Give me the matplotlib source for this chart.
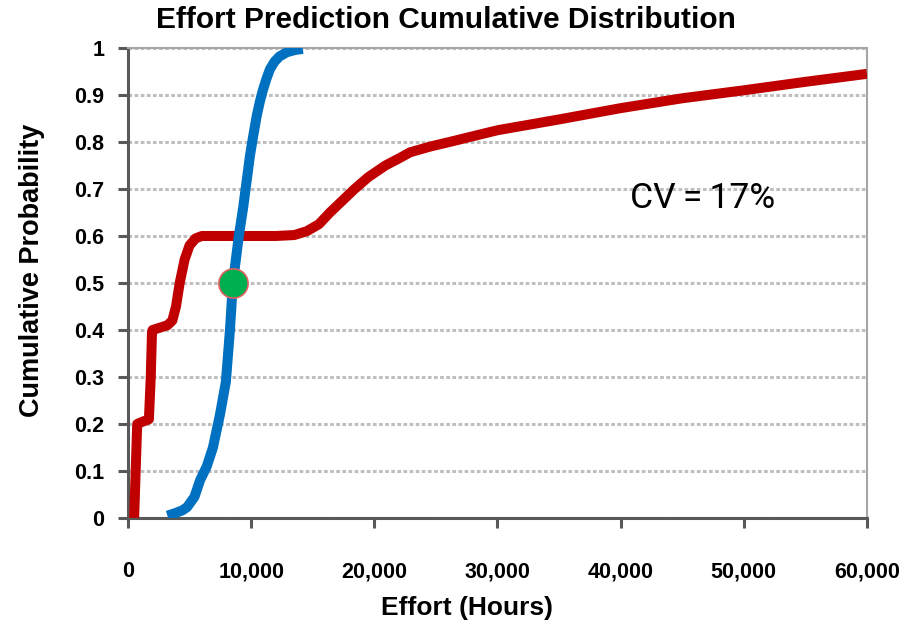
import matplotlib
matplotlib.use("Agg")
import matplotlib.pyplot as plt
import numpy as np
from matplotlib.ticker import FuncFormatter, MultipleLocator

plt.rcParams.update({"font.family": "Liberation Sans"})

# red curve: effort estimate with wide spread
red_x = np.array([500, 600, 700, 750, 1200, 1700, 1850, 1950, 2000, 2600, 3200, 3600,
                  3900, 4200, 4600, 5000, 5500, 6000, 6500, 8000, 10000, 12000, 13500,
                  14500, 15500, 16400, 17400, 18400, 19500, 20900, 22000, 22900, 24500,
                  26100, 30000, 35000, 40000, 45000, 50000, 55000, 60000])
red_y = np.array([0.0, 0.08, 0.16, 0.2, 0.205, 0.21, 0.3, 0.395, 0.4, 0.405, 0.41, 0.42,
                  0.45, 0.5, 0.55, 0.58, 0.595, 0.6, 0.6, 0.6, 0.6, 0.6, 0.602,
                  0.61, 0.625, 0.65, 0.675, 0.7, 0.725, 0.75, 0.765, 0.778, 0.79,
                  0.8, 0.825, 0.848, 0.872, 0.893, 0.91, 0.928, 0.945])

# blue curve: effort estimate with CV=17%
blue_x = np.array([3200, 3800, 4400, 4800, 5400, 5850, 6400, 6900, 7470, 7950, 8280,
                   8520, 8760, 9000, 9350, 9650, 9900, 10150, 10450, 10700, 10950,
                   11250, 11530, 11900, 12300, 12900, 13600, 14200])
blue_y = np.array([0.005, 0.01, 0.016, 0.023, 0.045, 0.08, 0.11, 0.15, 0.22, 0.29, 0.4,
                   0.5, 0.55, 0.6, 0.66, 0.72, 0.77, 0.81, 0.855, 0.885, 0.91,
                   0.935, 0.955, 0.971, 0.982, 0.991, 0.996, 0.998])

median_x = 8520
median_y = 0.5

fig = plt.figure(figsize=(9.18, 6.29), dpi=100)
ax = fig.add_axes([0.1394, 0.1765, 0.805, 0.7472])

ax.plot(red_x, red_y, color="#C00000", lw=7.2, solid_capstyle="butt",
        solid_joinstyle="round", zorder=3)
ax.plot(blue_x, blue_y, color="#0070C0", lw=7.2, solid_capstyle="butt",
        solid_joinstyle="round", zorder=3)
ax.plot(median_x, median_y, "o", ms=21, color="#00B050",
        markeredgecolor="#E06060", markeredgewidth=1.2, zorder=4)

ax.set_xlim(0, 60000)
ax.set_ylim(0, 1)
ax.xaxis.set_major_locator(MultipleLocator(10000))
ax.yaxis.set_major_locator(MultipleLocator(0.1))
ax.xaxis.set_major_formatter(FuncFormatter(lambda v, p: f"{int(v):,}"))
ax.yaxis.set_major_formatter(FuncFormatter(lambda v, p: "0" if v == 0 else ("1" if v == 1 else f"{v:.1f}")))

ax.grid(axis="y", color="#BFBFBF", linestyle=(0, (1.2, 0.8)), lw=2.2, zorder=1)
ax.set_axisbelow(True)

for side in ["left", "bottom"]:
    ax.spines[side].set_color("#595959")
    ax.spines[side].set_linewidth(2.2)
for side in ["top", "right"]:
    ax.spines[side].set_color("#A6A6A6")
    ax.spines[side].set_linewidth(1.5)

ax.tick_params(axis="both", direction="out", length=7, width=2.2, color="#595959",
               labelsize=15.5)
ax.tick_params(axis="x", pad=24)
ax.tick_params(axis="y", pad=10)
for lab in ax.get_xticklabels() + ax.get_yticklabels():
    lab.set_fontweight("bold")

ax.text(40750, 0.68, "CV\u2009=\u200917%", fontsize=25.5,
        family=["Roboto", "DejaVu Sans"], color="black", va="center", ha="left")

fig.text(446 / 918, 1 - 20 / 629, "Effort Prediction Cumulative Distribution",
         fontsize=21.5, fontweight="bold", ha="center", va="center")
fig.text(467 / 918, 1 - 608 / 629, "Effort (Hours)", fontsize=19, fontweight="bold",
         ha="center", va="center")
fig.text(32 / 918, 1 - 270 / 629, "Cumulative Probability", fontsize=19.5,
         fontweight="bold", rotation=90, ha="center", va="center")

fig.savefig("out.png", dpi=100)
